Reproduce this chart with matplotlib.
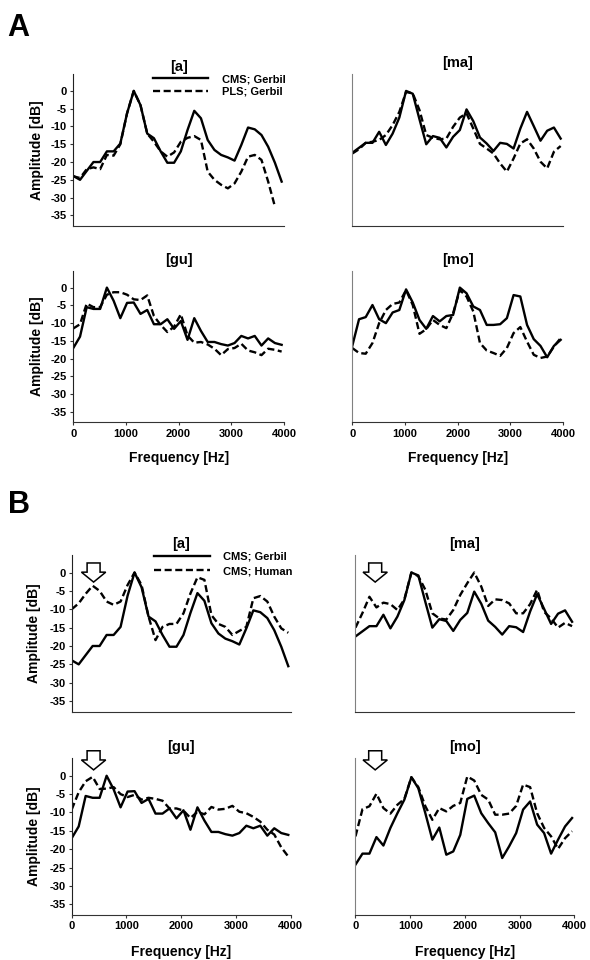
import matplotlib
matplotlib.use("Agg")
import matplotlib.pyplot as plt
import numpy as np
from matplotlib.lines import Line2D
from matplotlib.patches import FancyArrow

plt.rcParams["font.family"] = ["Liberation Sans", "DejaVu Sans"]
plt.rcParams["font.weight"] = "bold"
plt.rcParams["axes.unicode_minus"] = False

# spectral bins (Hz), shared by every curve
freq_hz = [0, 128, 255, 383, 510, 638, 766, 893, 1021, 1148, 1276, 1404,
           1531, 1659, 1786, 1914, 2042, 2169, 2297, 2424, 2552, 2680, 2807,
           2935, 3062, 3190, 3318, 3445, 3573, 3700, 3828, 3956]

# ---- [a] ----
a_cms_gerbil = [-23.9, -25, -22.5, -20, -20, -17, -17, -14.8, -6.3, 0, -4, -12,
                -13.3, -17, -20.2, -20.2, -17, -11, -5.6, -7.7, -13.8, -16.6,
                -18, -18.7, -19.6, -15.2, -10.3, -10.8, -12.4, -15.7, -20.2, -25.5]
a_pls_gerbil = [-24, -24.5, -22, -21.5, -22, -18, -18.2, -15, -6.3, 0, -4, -12,
                -14.3, -17, -18.5, -17.3, -14.3, -13.2, -12.7, -13.8, -22.7, -25,
                -26.4, -27.4, -26, -22.7, -18.5, -18, -19.4, -25.5, -32.5, np.nan]
a_cms_human = [-10, -8.4, -5.8, -3.6, -5, -7.9, -8.8, -7.9, -3.4, 0, -3.4, -12,
               -18.4, -14.8, -14, -14, -11.1, -5.7, -1.3, -2, -11.6, -14, -14.8,
               -17, -15.9, -14.8, -7, -6.4, -7.9, -12, -15.2, -16.4]

# ---- [ma] ----
ma_cms_gerbil = [-17.4, -16, -14.6, -14.6, -11.5, -15.2, -12, -7.5, 0, -0.8, -8,
                 -15, -12.7, -13.2, -15.9, -12.9, -11, -5.2, -8.5, -13.1, -14.8,
                 -16.9, -14.6, -14.9, -16.2, -10.6, -5.9, -9.9, -14, -11.2, -10.3, -13.4]
ma_pls_gerbil = [-17.6, -16.4, -14.6, -14.3, -13.8, -12.4, -9.6, -5.9, -0.3, -0.7,
                 -5.4, -12.4, -13.2, -13.6, -13.4, -10.1, -7.5, -6.3, -10.6, -14.9,
                 -16.2, -17.6, -20.4, -22.7, -19, -14.8, -13.6, -16.2, -19.9, -21.8,
                 -17.1, -15.5]
ma_cms_human = [-15, -11, -6.6, -9.5, -8.2, -8.6, -10.2, -7.3, 0, -1, -4.7, -11.1,
                -12.5, -12.8, -10.2, -6.1, -2.9, 0, -3.8, -9.1, -7.3, -7.5, -8.4,
                -11.1, -11.1, -8.6, -4.7, -10.7, -12.5, -15, -13.7, -14.6]

# ---- [gu] ----
gu_cms_gerbil = [-17, -13.8, -5.5, -6, -6, 0, -3.7, -8.6, -4.3, -4.2, -7.4, -6.3,
                 -10.3, -10.3, -8.9, -11.6, -9.4, -14.7, -8.6, -12.2, -15.3, -15.3,
                 -15.9, -16.3, -15.6, -13.6, -14.3, -13.6, -16.3, -14.3, -15.6, -16.1]
gu_pls_gerbil = [-11.5, -10.3, -4.5, -5.5, -5.5, -2, -1.3, -1.3, -2, -3.3, -3.5,
                 -2.2, -8, -10.5, -12.5, -11, -7.5, -13.5, -15.5, -15.3, -16, -17.2,
                 -19, -17.3, -17, -15.8, -17.7, -18.2, -19, -17.2, -17.5, -18]
gu_cms_human = [-9.2, -4.5, -1.5, -0.3, -3.6, -3.5, -3.1, -5, -5.8, -5.2, -6.5, -6,
                -6.3, -6.8, -8.9, -8.9, -9.5, -11.5, -9.8, -10.5, -8.5, -9.2, -9,
                -8.2, -9.8, -10.2, -11.2, -12.5, -14.7, -16, -19.5, -22]

# ---- [mo] ----
mo_cms_gerbil_a = [-16.4, -8.9, -8.3, -4.9, -8.9, -10, -7, -6.3, -0.5, -4.2, -9.1,
                   -11.6, -8, -9.5, -8, -7.7, 0, -1.6, -5.3, -6.3, -10.5, -10.5,
                   -10.3, -8.6, -2.1, -2.5, -10.5, -14.5, -16.4, -19.6, -16.4, -14.7]
mo_pls_gerbil = [-17, -18.4, -18.6, -15.6, -10, -6.3, -4.6, -4.2, -0.7, -4.9, -13,
                 -11.7, -9.1, -10.5, -11.4, -7.2, -0.7, -2.5, -6.7, -15.6, -17.7,
                 -18.4, -19.2, -17, -12.8, -11.1, -15.2, -18.9, -19.8, -19.4, -16.6, -14.2]
mo_cms_gerbil_b = [-24.2, -21.2, -21.2, -16.7, -19, -14.2, -10.2, -6.5, -0.4, -3.4,
                   -10.2, -17.4, -14.1, -21.5, -20.6, -16.1, -6.3, -5.4, -10.2, -12.9,
                   -15.4, -22.4, -19.2, -15.6, -9.2, -7, -13.3, -15.6, -21.2, -17.4,
                   -13.8, -11.5]
mo_cms_human = [-16.5, -9.1, -8.3, -4.9, -8.8, -10.3, -7.9, -6.3, -0.4, -3.1, -8.3,
                -12, -8.8, -9.7, -8.2, -7.4, -0.2, -1.3, -5.2, -6.5, -10.6, -10.6,
                -10.3, -8.2, -2.4, -3.1, -10.2, -14.2, -16.5, -19.9, -17, -15.1]

# hollow arrows in panel B, marking the human F0 region
arrow_hz = [400, 360, 400, 360]
arrow_top_db = [2.6, 2.6, 6.8, 6.8]

y_ticks = [-35, -30, -25, -20, -15, -10, -5, 0]
x_ticks = [0, 1000, 2000, 3000, 4000]

DASH = (0, (3, 1.5))
LW = 1.7


def draw_panel(ax, title, solid, dashed, left_col, bottom_row, title_pad=5,
               ylab_x=-0.139, xlab_y=-0.188):
    ax.plot(freq_hz, solid, color="black", lw=LW)
    ax.plot(freq_hz, dashed, color="black", lw=LW, ls=DASH)
    ax.set_xlim(0, 4000)
    ax.set_ylim(-37.9, 4.75)
    ax.set_title(title, fontsize=10.5, fontweight="bold", pad=title_pad)
    for s in ("top", "right"):
        ax.spines[s].set_visible(False)
    ax.spines["bottom"].set_color("#333333")
    ax.spines["left"].set_color("#222222" if left_col else "#808080")
    ax.tick_params(length=2, width=0.8, labelsize=8, pad=2.5, color="#333333")
    if left_col:
        ax.set_yticks(y_ticks)
        ax.set_ylabel("Amplitude [dB]", fontsize=10, fontweight="bold")
        ax.yaxis.set_label_coords(ylab_x, 0.5)
    else:
        ax.set_yticks([])
    if bottom_row:
        ax.set_xticks(x_ticks)
        ax.set_xlabel("Frequency [Hz]", fontsize=10, fontweight="bold")
        ax.xaxis.set_label_coords(0.5, xlab_y)
    else:
        ax.set_xticks([])


def add_legend(ax, labels, anchor, spacing):
    handles = [Line2D([], [], color="black", lw=LW),
               Line2D([], [], color="black", lw=LW, ls=DASH)]
    ax.legend(handles, labels, loc="upper left", bbox_to_anchor=anchor,
              frameon=False, fontsize=8, handlelength=5.0, handletextpad=1.2,
              labelspacing=spacing, borderpad=0, borderaxespad=0)


def add_arrow(ax, x, top):
    ax.add_patch(FancyArrow(x, top, 0, -5.2, width=237, head_width=444,
                            head_length=2.7, length_includes_head=True,
                            facecolor="white", edgecolor="black", lw=1.1,
                            clip_on=False, zorder=5))


fig = plt.figure(figsize=(5.9, 9.6), dpi=100)

# panel A
wa = 0.3571
ax = fig.add_axes([0.1242, 0.7649, wa, 0.158])
draw_panel(ax, "[a]", a_cms_gerbil, a_pls_gerbil, True, False, title_pad=1.5)
add_legend(ax, ["CMS; Gerbil", "PLS; Gerbil"], (0.378, 1.0), 0.25)
ax = fig.add_axes([0.5971, 0.7649, wa, 0.158])
draw_panel(ax, "[ma]", ma_cms_gerbil, ma_pls_gerbil, False, False)
ax = fig.add_axes([0.1242, 0.5601, wa, 0.1579])
draw_panel(ax, "[gu]", gu_cms_gerbil, gu_pls_gerbil, True, True)
ax = fig.add_axes([0.5971, 0.5601, wa, 0.1579])
draw_panel(ax, "[mo]", mo_cms_gerbil_a, mo_pls_gerbil, False, True)

# panel B
wb = 0.3712
b_axes = []
ax = fig.add_axes([0.1215, 0.2586, wb, 0.1632])
draw_panel(ax, "[a]", a_cms_gerbil, a_cms_human, True, False, ylab_x=-0.142)
add_legend(ax, ["CMS; Gerbil", "CMS; Human"], (0.376, 1.02), 0.38)
b_axes.append(ax)
ax = fig.add_axes([0.6025, 0.2586, wb, 0.1632])
draw_panel(ax, "[ma]", ma_cms_gerbil, ma_cms_human, False, False)
b_axes.append(ax)
ax = fig.add_axes([0.1215, 0.0469, wb, 0.1632])
draw_panel(ax, "[gu]", gu_cms_gerbil, gu_cms_human, True, True,
           ylab_x=-0.142, xlab_y=-0.19)
b_axes.append(ax)
ax = fig.add_axes([0.6025, 0.0469, wb, 0.1632])
draw_panel(ax, "[mo]", mo_cms_gerbil_b, mo_cms_human, False, True, xlab_y=-0.19)
b_axes.append(ax)

for ax, x, top in zip(b_axes, arrow_hz, arrow_top_db):
    add_arrow(ax, x, top)

fig.text(7 / 590, 1 - 36 / 960, "A", fontsize=22, fontweight="bold", va="baseline")
fig.text(8 / 590, 1 - 513 / 960, "B", fontsize=22, fontweight="bold", va="baseline")

fig.savefig("out.png", dpi=100)
